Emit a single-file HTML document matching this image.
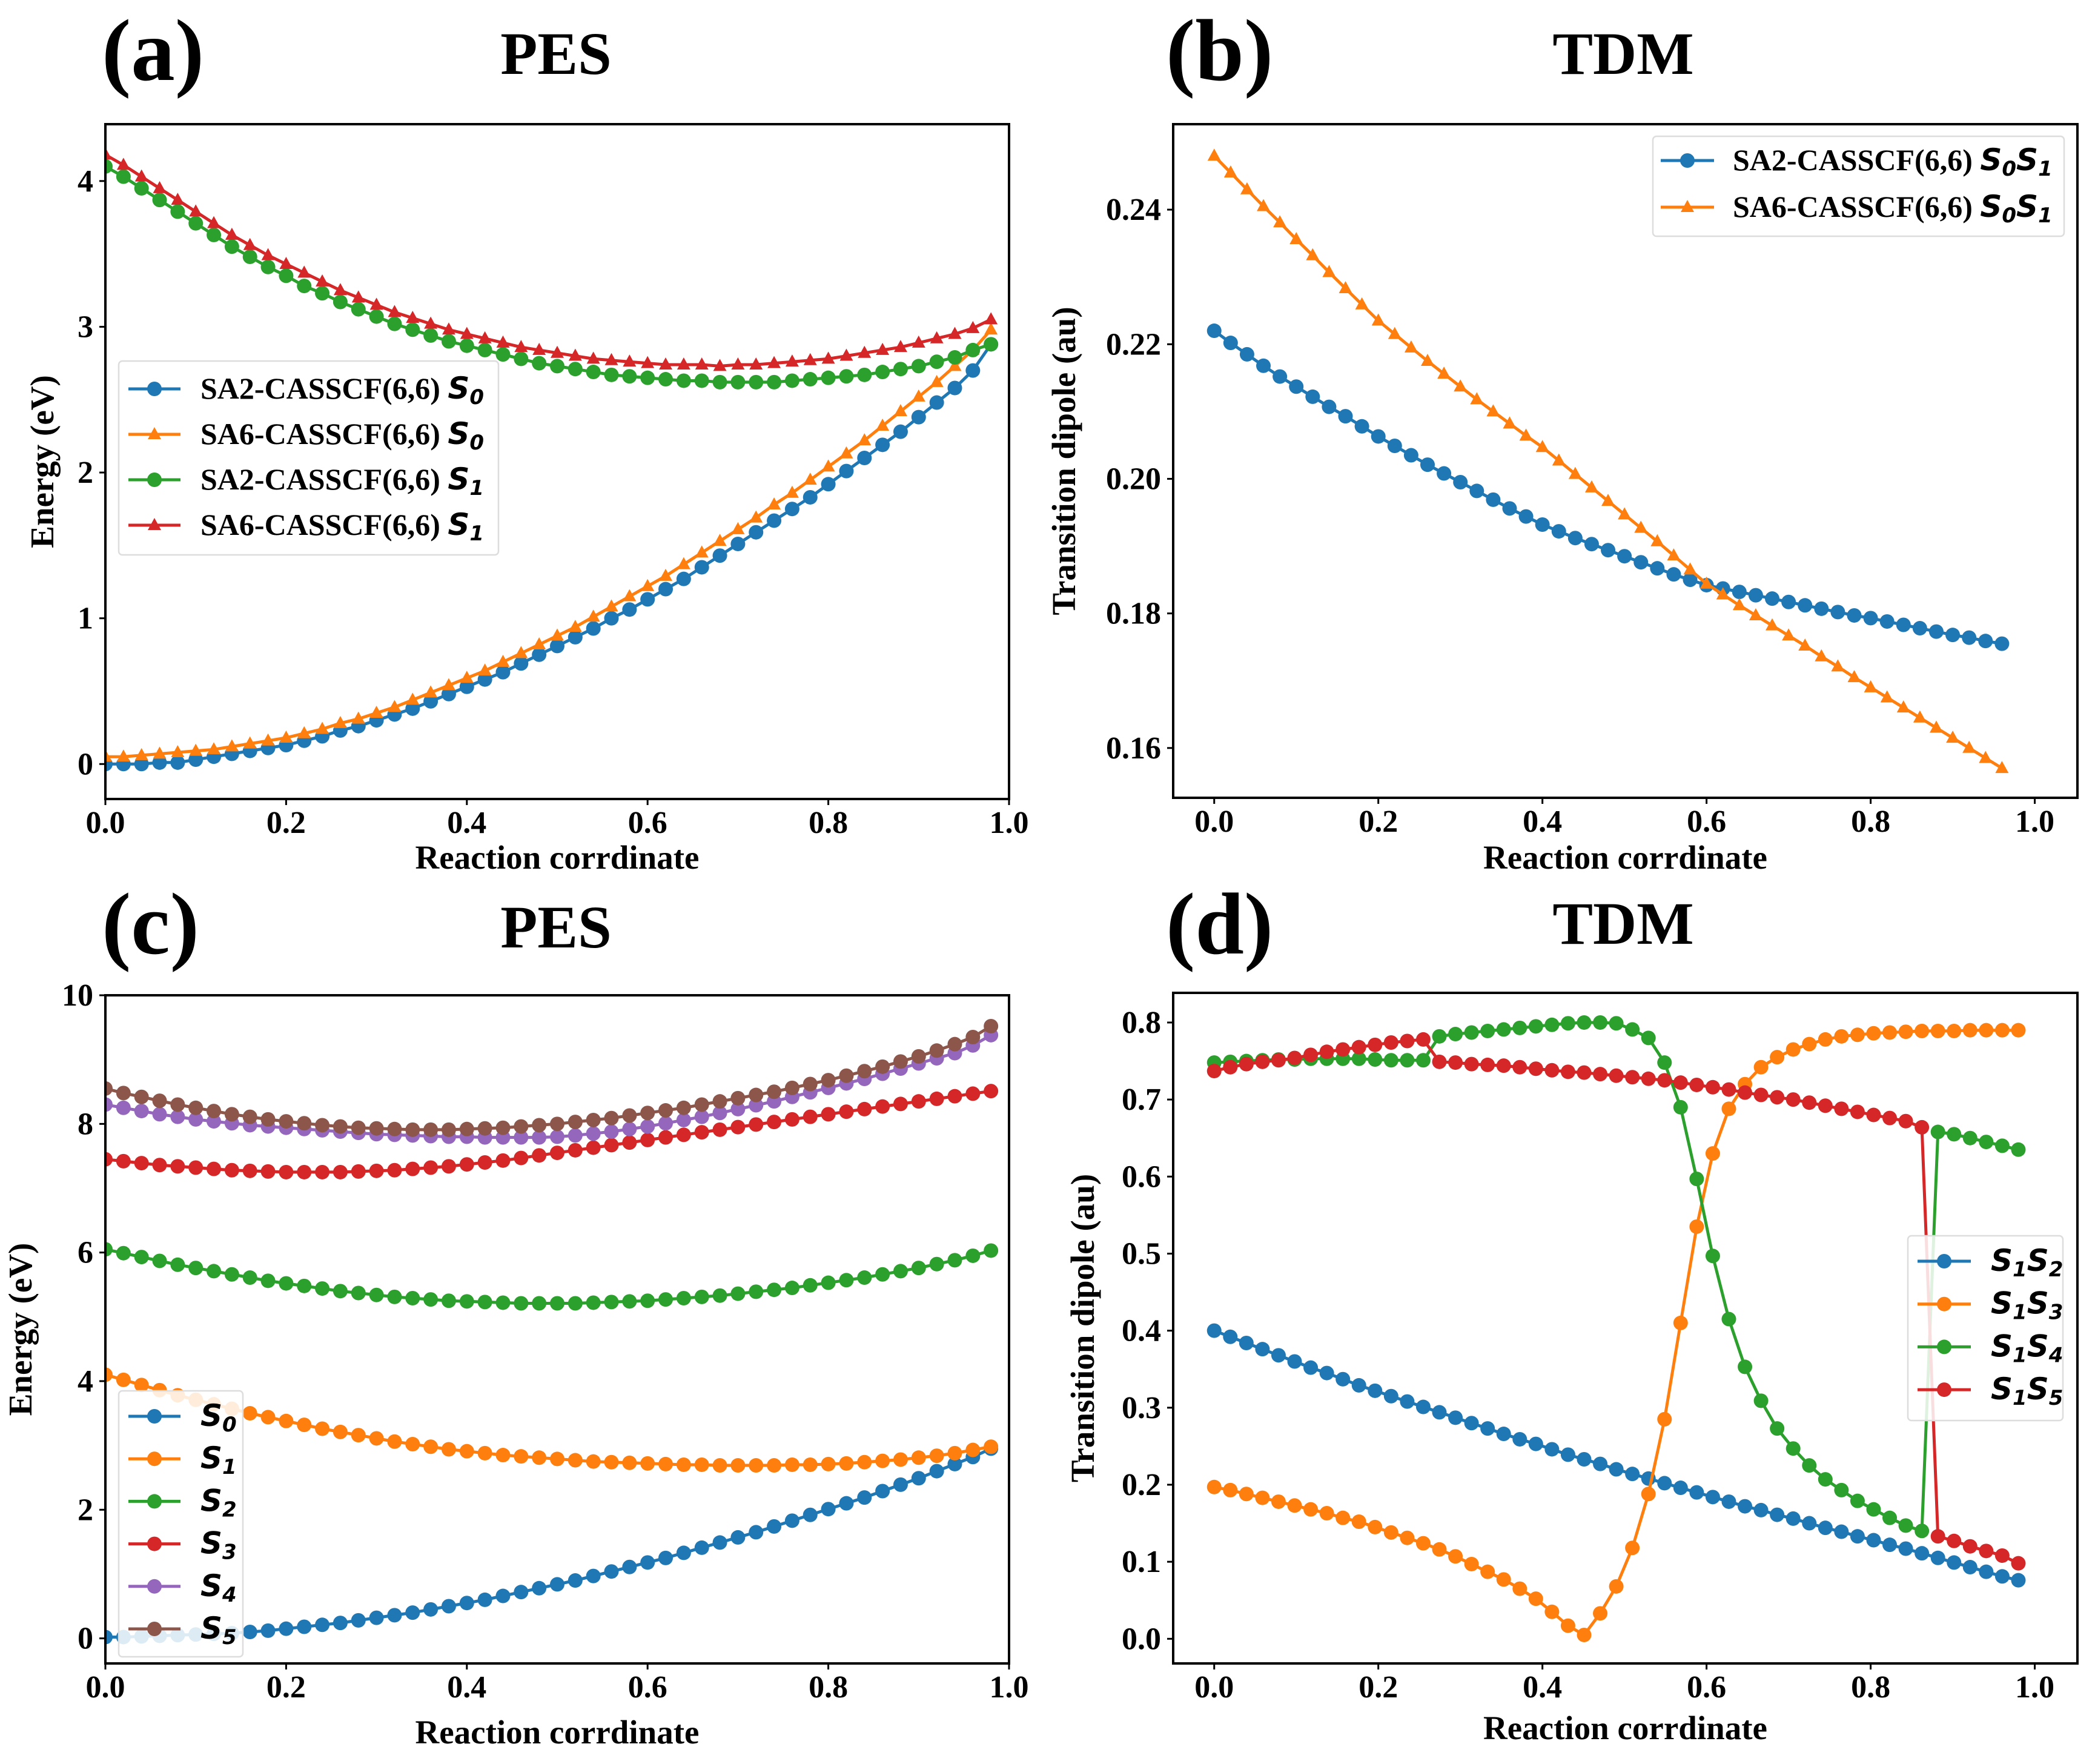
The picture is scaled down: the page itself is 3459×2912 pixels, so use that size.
<!DOCTYPE html>
<html><head><meta charset="utf-8">
<style>
html,body{margin:0;padding:0;background:#fff;}
svg{display:block;}
text{font-family:"Liberation Serif",serif;font-weight:bold;fill:#000;}
.m{font-family:"DejaVu Sans","Liberation Sans",sans-serif;font-style:italic;font-weight:bold;}
</style></head>
<body>
<svg id="fig" width="3459" height="2912" viewBox="0 0 3459 2912" xmlns="http://www.w3.org/2000/svg"></svg>
<script>
// ---------- Panel (a) data ----------
const aX = [0,.02,.04,.06,.08,.10,.12,.14,.16,.18,.20,.22,.24,.26,.28,.30,.32,.34,.36,.38,.40,.42,.44,.46,.48,.50,.52,.54,.56,.58,.60,.62,.64,.66,.68,.70,.72,.74,.76,.78,.80,.82,.84,.86,.88,.90,.92,.94,.96,.98];
const aSA2S0 = [0,0,0,0.01,0.01,0.03,0.05,0.07,0.09,0.11,0.13,0.16,0.19,0.23,0.26,0.30,0.34,0.38,0.43,0.48,0.53,0.58,0.63,0.69,0.75,0.81,0.87,0.93,1.00,1.06,1.13,1.20,1.27,1.35,1.43,1.51,1.59,1.67,1.75,1.83,1.92,2.01,2.10,2.19,2.28,2.38,2.48,2.58,2.70,2.88];
const aSA6S0 = [0.05,0.05,0.06,0.07,0.08,0.09,0.10,0.12,0.14,0.16,0.18,0.21,0.24,0.28,0.31,0.35,0.39,0.44,0.49,0.54,0.59,0.64,0.70,0.76,0.82,0.88,0.94,1.01,1.08,1.15,1.22,1.29,1.37,1.45,1.53,1.61,1.69,1.78,1.86,1.95,2.04,2.13,2.22,2.32,2.42,2.52,2.62,2.73,2.84,2.98];
const aSA2S1 = [4.10,4.03,3.95,3.87,3.79,3.71,3.63,3.55,3.48,3.41,3.35,3.28,3.23,3.17,3.12,3.07,3.02,2.98,2.94,2.90,2.87,2.84,2.81,2.78,2.75,2.73,2.71,2.69,2.67,2.66,2.65,2.64,2.63,2.63,2.62,2.62,2.62,2.62,2.63,2.64,2.65,2.66,2.67,2.69,2.71,2.73,2.76,2.79,2.84,2.88];
const aSA6S1 = [4.18,4.11,4.03,3.95,3.87,3.79,3.71,3.63,3.56,3.49,3.43,3.37,3.31,3.25,3.20,3.15,3.10,3.06,3.02,2.98,2.95,2.92,2.89,2.86,2.84,2.82,2.80,2.78,2.77,2.76,2.75,2.74,2.74,2.74,2.73,2.74,2.74,2.75,2.76,2.77,2.78,2.80,2.82,2.84,2.86,2.89,2.92,2.95,2.99,3.05];
const aXTicks = [0,0.2,0.4,0.6,0.8,1.0];
const aYTicks = [0,1,2,3,4];
// ---------- Panel (b) data ----------
const bX = [0,.02,.04,.06,.08,.10,.12,.14,.16,.18,.20,.22,.24,.26,.28,.30,.32,.34,.36,.38,.40,.42,.44,.46,.48,.50,.52,.54,.56,.58,.60,.62,.64,.66,.68,.70,.72,.74,.76,.78,.80,.82,.84,.86,.88,.90,.92,.94,.96];
const bSA2 = [.2220,.2202,.2185,.2168,.2152,.2137,.2122,.2107,.2093,.2078,.2063,.2049,.2035,.2021,.2008,.1995,.1982,.1969,.1956,.1944,.1932,.1922,.1912,.1903,.1894,.1885,.1876,.1867,.1858,.1850,.1842,.1837,.1832,.1827,.1822,.1817,.1812,.1807,.1802,.1797,.1793,.1788,.1783,.1778,.1773,.1768,.1764,.1759,.1755];
const bSA6 = [.2480,.2455,.2430,.2405,.2381,.2356,.2332,.2307,.2283,.2259,.2235,.2215,.2195,.2175,.2156,.2137,.2118,.2100,.2082,.2064,.2047,.2027,.2007,.1987,.1967,.1947,.1927,.1907,.1886,.1865,.1844,.1828,.1812,.1797,.1782,.1767,.1752,.1736,.1721,.1705,.1690,.1675,.1660,.1645,.1630,.1615,.1600,.1585,.1570];
const bXTicks = [0,0.2,0.4,0.6,0.8,1.0];
const bYTicks = [0.16,0.18,0.20,0.22,0.24];
// ---------- Panel (c) data ----------
const cX = aX;
const cS0 = [0.02,0.02,0.03,0.04,0.05,0.06,0.07,0.08,0.10,0.12,0.15,0.18,0.21,0.24,0.28,0.32,0.36,0.40,0.45,0.50,0.55,0.60,0.66,0.72,0.78,0.84,0.90,0.97,1.04,1.11,1.18,1.25,1.33,1.41,1.49,1.57,1.65,1.74,1.83,1.92,2.01,2.10,2.19,2.29,2.39,2.49,2.60,2.71,2.82,2.95];
const cS1 = [4.10,4.02,3.94,3.86,3.78,3.71,3.64,3.57,3.50,3.44,3.38,3.32,3.26,3.21,3.16,3.11,3.06,3.02,2.98,2.94,2.91,2.88,2.85,2.83,2.81,2.79,2.77,2.75,2.74,2.73,2.72,2.71,2.70,2.70,2.69,2.69,2.69,2.69,2.70,2.70,2.71,2.72,2.74,2.76,2.78,2.81,2.84,2.88,2.93,2.98];
const cS2 = [6.05,5.99,5.93,5.87,5.81,5.76,5.71,5.66,5.61,5.56,5.52,5.48,5.44,5.40,5.37,5.34,5.31,5.29,5.27,5.25,5.24,5.23,5.22,5.21,5.21,5.21,5.21,5.22,5.23,5.24,5.25,5.27,5.29,5.31,5.33,5.36,5.39,5.42,5.45,5.49,5.53,5.57,5.61,5.66,5.71,5.76,5.82,5.88,5.95,6.03];
const cS3 = [7.45,7.42,7.39,7.36,7.34,7.32,7.30,7.28,7.27,7.26,7.25,7.25,7.25,7.25,7.26,7.27,7.28,7.30,7.32,7.34,7.37,7.40,7.43,7.47,7.51,7.55,7.59,7.63,7.67,7.71,7.75,7.79,7.83,7.87,7.91,7.95,7.99,8.03,8.07,8.11,8.15,8.19,8.23,8.27,8.31,8.35,8.39,8.43,8.47,8.51];
const cS4 = [8.30,8.25,8.20,8.15,8.11,8.07,8.04,8.01,7.98,7.96,7.94,7.92,7.90,7.88,7.86,7.84,7.83,7.82,7.81,7.80,7.80,7.79,7.79,7.79,7.79,7.80,7.82,7.85,7.88,7.92,7.96,8.01,8.06,8.11,8.17,8.23,8.29,8.35,8.42,8.49,8.56,8.63,8.70,8.78,8.86,8.94,9.02,9.10,9.22,9.38];
const cS5 = [8.55,8.48,8.42,8.36,8.30,8.25,8.20,8.15,8.11,8.07,8.04,8.01,7.98,7.96,7.94,7.93,7.92,7.91,7.91,7.91,7.92,7.93,7.94,7.96,7.98,8.00,8.03,8.06,8.09,8.13,8.17,8.21,8.25,8.30,8.35,8.40,8.45,8.50,8.56,8.62,8.68,8.75,8.82,8.89,8.97,9.05,9.14,9.24,9.35,9.52];
const cXTicks = [0,0.2,0.4,0.6,0.8,1.0];
const cYTicks = [0,2,4,6,8,10];
// ---------- Panel (d) data ----------
const dX = [0,.0196,.0392,.0588,.0784,.098,.1176,.1372,.1568,.1764,.196,.2156,.2352,.2548,.2744,.294,.3136,.3332,.3528,.3724,.392,.4116,.4312,.4508,.4704,.49,.5096,.5292,.5488,.5684,.588,.6076,.6272,.6468,.6664,.686,.7056,.7252,.7448,.7644,.784,.8036,.8232,.8428,.8624,.882,.9016,.9212,.9408,.9604,.98];
const dS1S2 = [.400,.392,.384,.376,.368,.360,.352,.345,.337,.329,.322,.315,.308,.301,.294,.287,.280,.273,.266,.259,.253,.246,.239,.233,.227,.220,.214,.208,.202,.196,.190,.184,.178,.172,.167,.161,.156,.150,.144,.139,.133,.128,.122,.117,.111,.105,.099,.093,.087,.081,.076];
const dS1S3 = [.197,.193,.188,.183,.178,.173,.168,.163,.157,.152,.145,.138,.131,.124,.116,.107,.097,.087,.077,.065,.052,.035,.017,.005,.033,.068,.118,.188,.285,.410,.535,.630,.688,.720,.742,.755,.765,.772,.778,.782,.784,.786,.787,.788,.789,.789,.789,.790,.790,.790,.790];
const dS1S4 = [.748,.749,.750,.751,.752,.752,.753,.753,.753,.753,.752,.751,.751,.751,.782,.785,.787,.789,.791,.793,.795,.797,.799,.800,.800,.799,.791,.780,.748,.690,.597,.497,.415,.353,.309,.273,.247,.225,.207,.193,.179,.168,.157,.147,.140,.658,.655,.650,.645,.640,.635];
const dS1S5 = [.737,.742,.746,.749,.751,.754,.758,.762,.765,.768,.771,.774,.776,.778,.749,.748,.746,.745,.744,.742,.740,.738,.736,.735,.733,.731,.729,.727,.725,.722,.719,.716,.713,.709,.706,.703,.700,.696,.692,.688,.684,.680,.676,.672,.664,.133,.127,.120,.114,.108,.098];
const dXTicks = [0,0.2,0.4,0.6,0.8,1.0];
const dYTicks = [0,0.1,0.2,0.3,0.4,0.5,0.6,0.7,0.8];

const C = {blue:'#1f77b4',orange:'#ff7f0e',green:'#2ca02c',red:'#d62728',purple:'#9467bd',brown:'#8c564b'};
const NS='http://www.w3.org/2000/svg';
const fig=document.getElementById('fig');
function mk(tag,attrs,parent){const e=document.createElementNS(NS,tag);for(const k in attrs)e.setAttribute(k,attrs[k]);(parent||fig).appendChild(e);return e;}

function panel(p){
  const g=mk('g',{});
  
  
  const sx=v=>p.L+(v-p.x0)/(p.x1-p.x0)*(p.R-p.L);
  const sy=v=>p.B-(v-p.y0)/(p.y1-p.y0)*(p.B-p.T);
  const cp=mk('clipPath',{id:'clip-'+p.name},g);
  mk('rect',{x:p.L,y:p.T,width:p.R-p.L,height:p.B-p.T},cp);
  const plot=mk('g',{'clip-path':'url(#clip-'+p.name+')'},g);
  p.series.forEach(s=>{
    const sg=mk('g',{},plot);
    
    
    const pts=s.y.map((v,i)=>sx(s.x[i]).toFixed(1)+','+sy(v).toFixed(1)).join(' ');
    const ln=mk('polyline',{points:pts,fill:'none',stroke:s.c,'stroke-width':5,'stroke-linejoin':'round'},sg);
    
    
    s.y.forEach((v,i)=>{
      const X=sx(s.x[i]),Y=sy(v);let m;
      if(s.tri){m=mk('polygon',{points:`${X},${Y-12} ${X-11},${Y+8} ${X+11},${Y+8}`,fill:s.c},sg);}
      else{m=mk('circle',{cx:X,cy:Y,r:12,fill:s.c},sg);}
      
      
    });
  });
  const fr=mk('rect',{x:p.L,y:p.T,width:p.R-p.L,height:p.B-p.T,fill:'none',stroke:'#000','stroke-width':4},g);
  
  
  p.xt.forEach(v=>{
    const X=sx(v);
    mk('line',{x1:X,y1:p.B,x2:X,y2:p.B+10,stroke:'#000','stroke-width':3},g);
    const t=mk('text',{x:X,y:p.B+56,'font-size':52,'text-anchor':'middle'},g);t.textContent=v.toFixed(1);
    
    
  });
  p.yt.forEach(v=>{
    const Y=sy(v);
    mk('line',{x1:p.L-10,y1:Y,x2:p.L,y2:Y,stroke:'#000','stroke-width':3},g);
    const t=mk('text',{x:p.L-20,y:Y+17,'font-size':52,'text-anchor':'end'},g);t.textContent=p.yfmt(v);
    
    
  });
  const xl=mk('text',{x:(p.L+p.R)/2,y:p.xly,'font-size':55,'text-anchor':'middle'},g);xl.textContent='Reaction corrdinate';
  
  
  const yl=mk('text',{x:0,y:0,'font-size':55,'text-anchor':'middle',transform:`translate(${p.ylx},${(p.T+p.B)/2}) rotate(-90)`},g);yl.textContent=p.ylab;
  
  
  const tl=mk('text',{x:p.tx,y:p.ty,'font-size':100,'text-anchor':'middle'},g);tl.textContent=p.title;
  
  
  const lb=mk('text',{x:p.lx,y:p.ly,'font-size':145},g);lb.textContent=p.label;
  
  
  const lg=mk('g',{},g);
  
  
  const L=p.leg;
  mk('rect',{x:L.x,y:L.y,width:L.w,height:L.h,rx:6,fill:'#fff','fill-opacity':0.85,stroke:'#ddd','stroke-width':2.5},lg);
  p.series.forEach((s,i)=>{
    const Y=L.e0+i*L.dy;
    const eg=mk('g',{},lg);
    
    
    mk('line',{x1:L.lx1,y1:Y,x2:L.lx2,y2:Y,stroke:s.c,'stroke-width':5},eg);
    const mx=(L.lx1+L.lx2)/2;
    if(s.tri)mk('polygon',{points:`${mx},${Y-12} ${mx-11},${Y+8} ${mx+11},${Y+8}`,fill:s.c},eg);
    else mk('circle',{cx:mx,cy:Y,r:12,fill:s.c},eg);
    const t=mk('text',{x:L.tx,y:Y+16,'font-size':L.fs||50},eg);
    t.innerHTML=s.lab;
  });
}
const sub=(n)=>`<tspan class="m">S</tspan><tspan class="m" font-size="34" dy="9">${n}</tspan><tspan dy="-9"></tspan>`;
const sub2=(a,b)=>`<tspan class="m">S</tspan><tspan class="m" font-size="34" dy="9">${a}</tspan><tspan class="m" dy="-9">S</tspan><tspan class="m" font-size="34" dy="9">${b}</tspan>`;

panel({name:'panel-a-pes',L:174,R:1666,T:205,B:1319,x0:0,x1:1,y0:-0.24,y1:4.39,xt:aXTicks,yt:aYTicks,yfmt:v=>String(v),
  xly:1434,ylx:88,ylab:'Energy (eV)',title:'PES',tx:918,ty:122,label:'(a)',lx:168,ly:132,
  leg:{x:196,y:596,w:627,h:320,e0:642,dy:75,lx1:212,lx2:298,tx:331},
  series:[
    {id:'sa2-s0',x:aX,y:aSA2S0,c:C.blue,lab:'SA2-CASSCF(6,6) '+sub(0)},
    {id:'sa6-s0',x:aX,y:aSA6S0,c:C.orange,tri:1,lab:'SA6-CASSCF(6,6) '+sub(0)},
    {id:'sa2-s1',x:aX,y:aSA2S1,c:C.green,lab:'SA2-CASSCF(6,6) '+sub(1)},
    {id:'sa6-s1',x:aX,y:aSA6S1,c:C.red,tri:1,lab:'SA6-CASSCF(6,6) '+sub(1)}]});
panel({name:'panel-b-tdm',L:1937,R:3430,T:205,B:1317,x0:-0.05,x1:1.052,y0:0.1526,y1:0.2527,xt:bXTicks,yt:bYTicks,yfmt:v=>v.toFixed(2),
  xly:1434,ylx:1775,ylab:'Transition dipole (au)',title:'TDM',tx:2680,ty:122,label:'(b)',lx:1925,ly:132,
  leg:{x:2729,y:225,w:679,h:165,e0:265,dy:77,lx1:2742,lx2:2830,tx:2861},
  series:[
    {id:'sa2-s0s1',x:bX,y:bSA2,c:C.blue,lab:'SA2-CASSCF(6,6) '+sub2(0,1)},
    {id:'sa6-s0s1',x:bX,y:bSA6,c:C.orange,tri:1,lab:'SA6-CASSCF(6,6) '+sub2(0,1)}]});
panel({name:'panel-c-pes',L:174,R:1666,T:1643,B:2746,x0:0,x1:1,y0:-0.39,y1:10,xt:cXTicks,yt:cYTicks,yfmt:v=>String(v),
  xly:2878,ylx:52,ylab:'Energy (eV)',title:'PES',tx:918,ty:1564,label:'(c)',lx:168,ly:1574,
  leg:{x:196,y:2296,w:205,h:439,e0:2338,dy:70.2,lx1:212,lx2:298,tx:331},
  series:[
    {id:'s0',x:cX,y:cS0,c:C.blue,lab:sub(0)},
    {id:'s1',x:cX,y:cS1,c:C.orange,lab:sub(1)},
    {id:'s2',x:cX,y:cS2,c:C.green,lab:sub(2)},
    {id:'s3',x:cX,y:cS3,c:C.red,lab:sub(3)},
    {id:'s4',x:cX,y:cS4,c:C.purple,lab:sub(4)},
    {id:'s5',x:cX,y:cS5,c:C.brown,lab:sub(5)}]});
panel({name:'panel-d-tdm',L:1937,R:3430,T:1639,B:2746,x0:-0.05,x1:1.052,y0:-0.032,y1:0.8385,xt:dXTicks,yt:dYTicks,yfmt:v=>v.toFixed(1),
  xly:2871,ylx:1806,ylab:'Transition dipole (au)',title:'TDM',tx:2680,ty:1558,label:'(d)',lx:1925,ly:1574,
  leg:{x:3150,y:2040,w:256,h:305,e0:2082,dy:70.7,lx1:3166,lx2:3254,tx:3287},
  series:[
    {id:'s1s2',x:dX,y:dS1S2,c:C.blue,lab:sub2(1,2)},
    {id:'s1s3',x:dX,y:dS1S3,c:C.orange,lab:sub2(1,3)},
    {id:'s1s4',x:dX,y:dS1S4,c:C.green,lab:sub2(1,4)},
    {id:'s1s5',x:dX,y:dS1S5,c:C.red,lab:sub2(1,5)}]});
</script>
</body></html>
